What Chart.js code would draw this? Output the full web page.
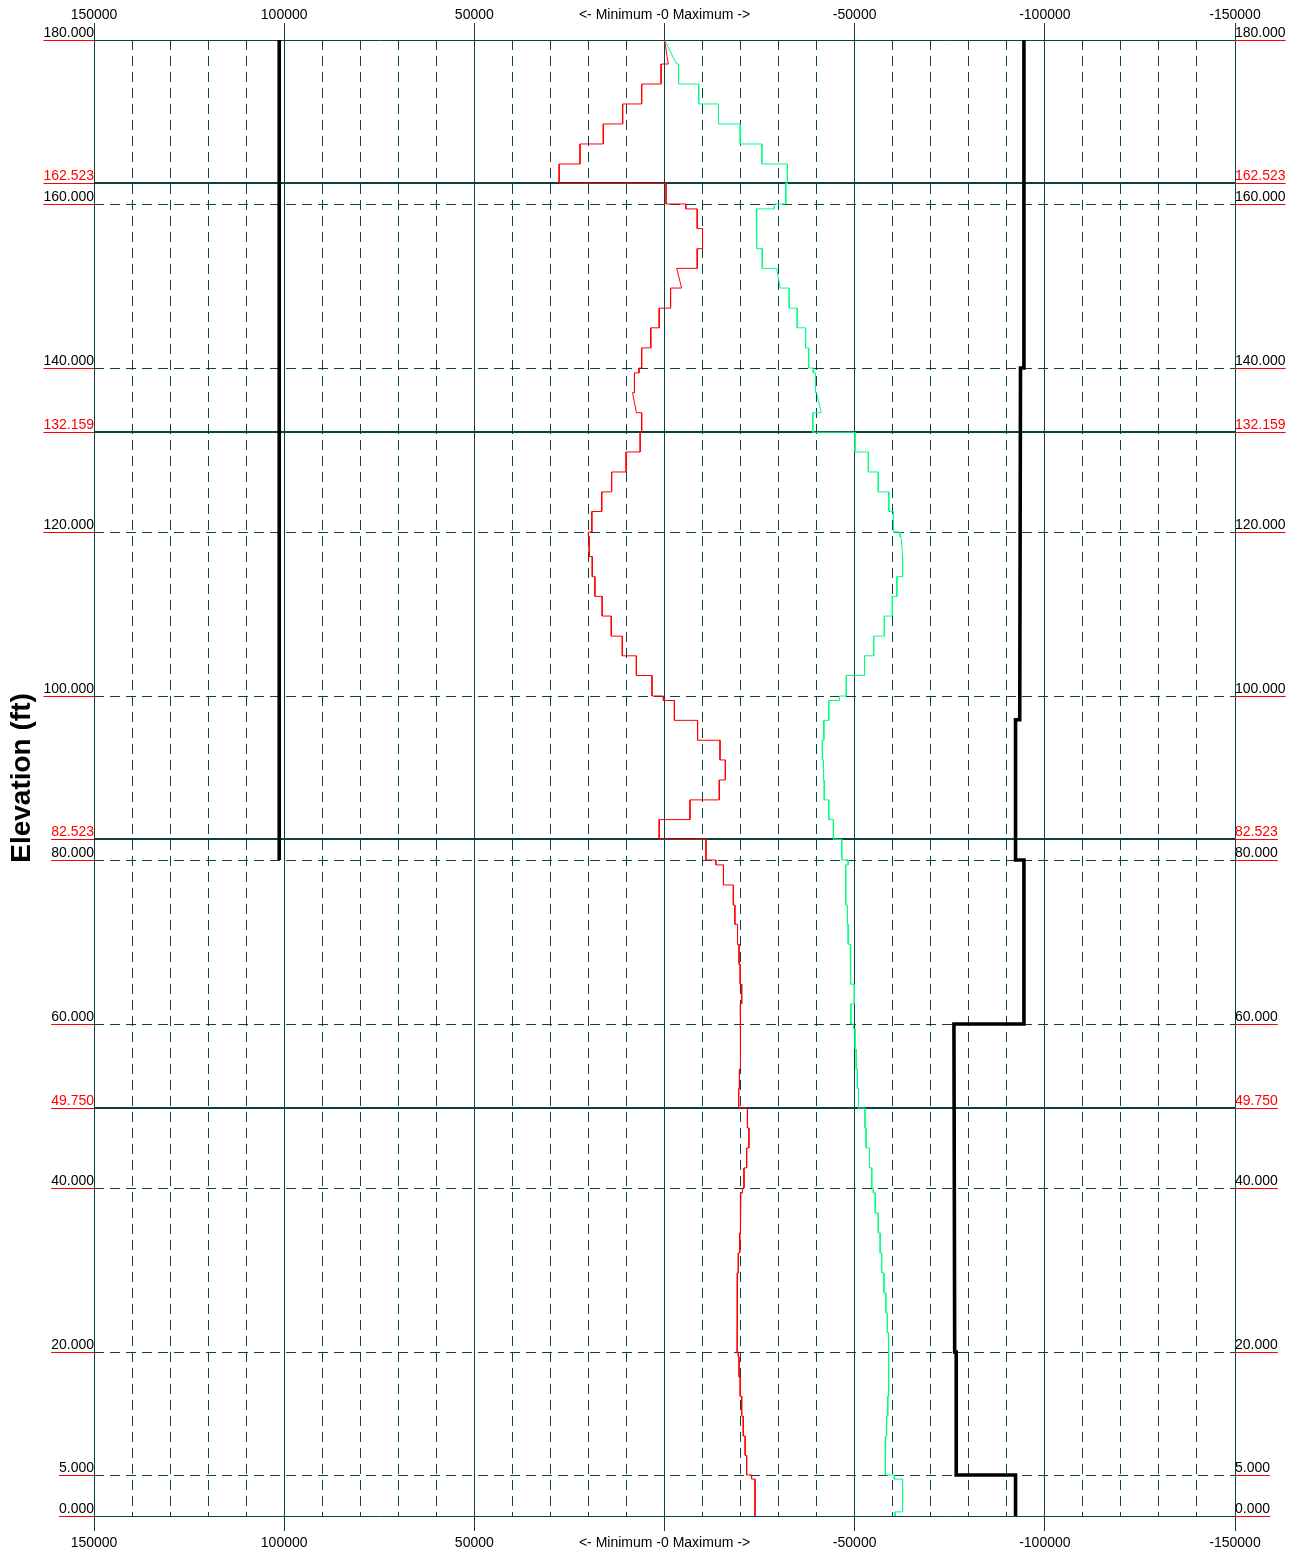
<!DOCTYPE html>
<html>
<head>
<meta charset="utf-8">
<title>Elevation envelope</title>
<script src="https://cdn.jsdelivr.net/npm/chart.js@4.4.1/dist/chart.umd.min.js"></script>
<style>
  html, body { margin: 0; padding: 0; background: #ffffff; }
  canvas { display: block; }
</style>
</head>
<body>
<canvas id="chart" width="1297" height="1551"></canvas>
<script>
// Segment boundaries along the member (ft), top to bottom
const elevNodes = [
  180, 177.07, 174.63, 172.2, 169.76, 167.32, 164.88, 162.523,
  160, 159.4, 157.0, 154.55, 152.15, 149.75, 147.3, 144.9, 142.45, 140, 139.4, 137.0, 134.55, 132.159,
  129.76, 127.32, 124.89, 122.5, 120, 119.45, 117.0, 114.55, 112.15, 109.75, 107.3, 104.9, 102.5, 100,
  99.45, 97.03, 94.6, 92.2, 89.76, 87.33, 84.93, 82.523,
  80, 79.4, 76.95, 74.5, 72.15, 69.72, 67.28, 64.85, 62.45, 60, 59.4, 56.95, 54.5, 52.12, 49.75,
  47.32, 44.88, 42.45, 40, 39.4, 36.96, 34.52, 32.08, 29.65, 27.21, 24.77, 22.34, 20, 19.4,
  16.94, 14.6, 12.18, 9.75, 7.4, 5, 4.5, 0.5, 0
];

// One value per segment; a [top, bottom] pair varies linearly over the segment
const minimumValues = [
  [0, -1000], 900, 6000, 11000, 16100, 22200, 27700,
  -400, -5600, -8600, -10000, -8600, [-3200, -4500], -1600, 1400, 3600, 6000, 6700, 7900, [8400, 7400], 6000,
  6400, 10100, 13900, 16500, 19100, 20000, 19800, 19000, 18300, 16400, 14000, 11100, 7400, 3300,
  300, -2600, -8700, -14600, -16000, -14400, -6700, 1400,
  -10900, -13500, -15500, -18100, -18500, -19200, -19600, -19900, -20300, -19900, -20100, -20000, -19900, -19700, -19500,
  -21800, -22200, -21600, -20900, -20500, -20100, -19900, -19800, -19400, -19200, -19100, -19100, -19100, -19400,
  -19600, -19900, -20300, -20700, -21200, -21600, -22900, -23800, -23800
];

const maximumValues = [
  [0, -3200], -3700, -9000, -14200, -19900, -25600, -32300,
  -31900, -28900, -24100, -24300, -25700, [-29500, -30400], -32800, -34900, -37100, -37900, -39100, -39700, [-40000, -41200], -39000,
  -50100, -53600, -56200, -59000, -60200, -61900, [-62200, -62600], -62600, -61100, -59900, -57800, -55000, -52600, -47800,
  -46000, -43200, -41900, -41500, -41800, -42000, -43200, -44400,
  -46600, -48300, -47600, -47700, -48100, -48300, -48800, -49000, -49900, -49000, -49700, -50100, -50400, -50700, -51000,
  -52700, -53000, -53900, -54500, -54900, -55400, -56200, -56700, -57100, -57700, -58200, -58600, -58900, -59000,
  -58900, -58900, -58700, -58400, -58200, -58000, -60400, -62600, -60600
];

// Capacity limits: elevations and values of each vertex
const leftLimitElev  = [180, 80];
const leftLimitValue = [101300, 101300];
const rightLimitElev  = [180, 140, 140, 97.1, 97.1, 80, 80, 60, 60, 20, 20, 5, 5, 0];
const rightLimitValue = [-94500, -94500, -93600, -93400, -92300, -92300, -94500, -94500, -76100, -76300, -76700, -76700, -92300, -92300];

// Axis ticks
const elevTicks = [180, 162.523, 160, 140, 132.159, 120, 100, 82.523, 80, 60, 49.75, 40, 20, 5, 0];
const breakElevs = [162.523, 132.159, 82.523, 49.75];
const valueMin = -150000, valueMax = 150000, minorStep = 10000, majorStep = 50000;
const centerLabel = '<- Minimum -0 Maximum ->';

const FONT = "'Liberation Sans', Arial, Helvetica, sans-serif";
const GRID = '#0a4242';
const DASH = [10, 6];

function envelope(values) {
  const pts = [];
  values.forEach((v, i) => {
    const [a, b] = Array.isArray(v) ? v : [v, v];
    pts.push({ x: a, y: elevNodes[i] }, { x: b, y: elevNodes[i + 1] });
  });
  return pts;
}
function polyline(elevs, vals) {
  return elevs.map((e, i) => ({ x: vals[i], y: e }));
}

const valueTicks = [];
for (let v = valueMax; v >= valueMin; v -= minorStep) valueTicks.push(v);

const isMajor = v => v % majorStep === 0;
const isBreak = v => breakElevs.includes(v);

function valueAxis(position, tickLength, padding, onChart) {
  return {
    type: 'linear',
    position,
    min: valueMin,
    max: valueMax,
    reverse: true,
    afterBuildTicks: s => { s.ticks = valueTicks.map(v => ({ value: v })); },
    afterFit: s => { s.height = position === 'top' ? 40 : 35; },
    ticks: {
      autoSkip: false,
      maxRotation: 0,
      minRotation: 0,
      padding,
      color: '#000000',
      font: { family: FONT, size: 14 },
      callback: v => isMajor(v) ? (v === 0 ? centerLabel : String(v)) : ''
    },
    grid: {
      display: true,
      drawOnChartArea: onChart,
      drawTicks: true,
      tickLength,
      color: GRID,
      lineWidth: 1,
      tickColor: c => (c.tick && isMajor(c.tick.value)) ? GRID : 'rgba(0,0,0,0)'
    },
    border: {
      display: false,
      dash: c => (c.tick && !isMajor(c.tick.value)) ? DASH : []
    }
  };
}

function elevAxis(position, width, withGrid) {
  return {
    type: 'linear',
    position,
    min: 0,
    max: 180,
    afterBuildTicks: s => { s.ticks = elevTicks.map(v => ({ value: v })); },
    afterFit: s => { s.width = width; },
    ticks: {
      autoSkip: false,
      padding: 0,
      labelOffset: -7,
      font: { family: FONT, size: 14 },
      color: c => (c.tick && isBreak(c.tick.value)) ? '#ff0000' : '#000000',
      callback: v => Number(v).toFixed(3)
    },
    grid: {
      display: withGrid,
      drawTicks: false,
      color: GRID,
      lineWidth: c => (c.tick && isBreak(c.tick.value)) ? 2 : 1
    },
    border: {
      display: false,
      dash: c => {
        if (!c.tick) return [];
        const v = c.tick.value;
        return (isBreak(v) || v === 0 || v === 180) ? [] : DASH;
      }
    },
    title: position === 'left' ? {
      display: true,
      text: 'Elevation (ft)',
      color: '#000000',
      font: { family: FONT, size: 28, weight: 'bold' },
      padding: { top: 5, bottom: 0 }
    } : { display: false }
  };
}

// Red underline beneath every elevation label
const labelUnderline = {
  id: 'labelUnderline',
  afterDraw(chart) {
    const ctx = chart.ctx;
    ctx.save();
    ctx.font = '14px ' + FONT;
    ctx.strokeStyle = '#ff0000';
    ctx.lineWidth = 1;
    ['y', 'y2'].forEach(id => {
      const s = chart.scales[id];
      s.ticks.forEach(t => {
        const w = ctx.measureText(t.label).width;
        const y = Math.round(s.getPixelForValue(t.value)) + 0.5;
        const x0 = id === 'y' ? s.right - w : s.left;
        ctx.beginPath();
        ctx.moveTo(x0, y);
        ctx.lineTo(x0 + w, y);
        ctx.stroke();
      });
    });
    ctx.restore();
  }
};

const lineDefaults = { showLine: true, pointRadius: 0, pointHoverRadius: 0, tension: 0, fill: false, xAxisID: 'x', yAxisID: 'y' };

new Chart(document.getElementById('chart'), {
  type: 'scatter',
  data: {
    datasets: [
      Object.assign({ label: 'Minimum', data: envelope(minimumValues), borderColor: '#ff0000', borderWidth: 1 }, lineDefaults),
      Object.assign({ label: 'Maximum', data: envelope(maximumValues), borderColor: '#00ff80', borderWidth: 1 }, lineDefaults),
      Object.assign({ label: 'Limit (+)', data: polyline(leftLimitElev, leftLimitValue), borderColor: '#000000', borderWidth: 3.6 }, lineDefaults),
      Object.assign({ label: 'Limit (-)', data: polyline(rightLimitElev, rightLimitValue), borderColor: '#000000', borderWidth: 3.6 }, lineDefaults)
    ]
  },
  options: {
    responsive: false,
    animation: false,
    events: [],
    layout: { padding: 0 },
    plugins: { legend: { display: false }, tooltip: { enabled: false }, title: { display: false } },
    scales: {
      x: valueAxis('top', 17, -1, true),
      x2: valueAxis('bottom', 15, 4, false),
      y: elevAxis('left', 94, true),
      y2: elevAxis('right', 62, false)
    }
  },
  plugins: [labelUnderline]
});
</script>
</body>
</html>
